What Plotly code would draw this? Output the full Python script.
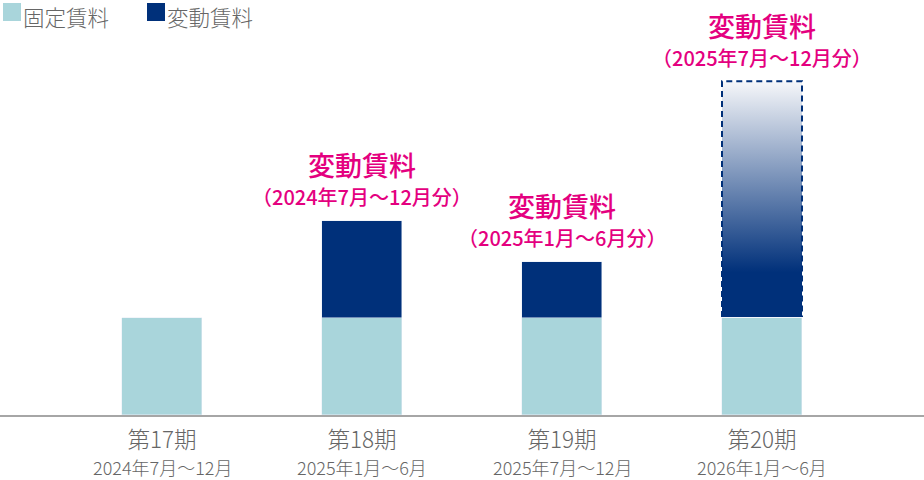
import plotly.graph_objects as go

periods = ["第17期", "第18期", "第19期", "第20期"]
period_ranges = ["2024年7月～12月", "2025年1月～6月", "2025年7月～12月", "2026年1月～6月"]
fixed_rent = [100, 100, 100, 100]
variable_rent = [0, 100, 58, 244]
variable_forecast = [False, False, False, True]
variable_labels = ["", "（2024年7月～12月分）", "（2025年1月～6月分）", "（2025年7月～12月分）"]
legend_names = ["固定賃料", "変動賃料"]

C_FIXED = "#a9d5db"
C_VAR = "#00307a"
C_PINK = "#e4007f"
C_TEXT = "#666666"
FONT = "Noto Sans CJK JP"
BAR_W = 0.4

x = list(range(len(periods)))

fig = go.Figure()
fig.add_trace(go.Bar(x=x, y=fixed_rent, width=BAR_W, marker_color=C_FIXED,
                     name=legend_names[0], showlegend=False))
actual_var = [v if (not f and v > 0) else None for v, f in zip(variable_rent, variable_forecast)]
fig.add_trace(go.Bar(x=x, y=actual_var, width=BAR_W, marker_color=C_VAR,
                     name=legend_names[1], showlegend=False))

# forecast bar: gradient fill with dashed outline (left, top, right)
for i, (fx, v, f) in enumerate(zip(fixed_rent, variable_rent, variable_forecast)):
    if not f:
        continue
    x0, x1 = i - BAR_W / 2, i + BAR_W / 2
    y0, y1 = fx + 1, fx + v
    fig.add_trace(go.Scatter(
        x=[x0, x0, x1, x1], y=[y0, y1, y1, y0],
        mode="lines", fill="toself",
        line=dict(color=C_VAR, width=2, dash="6px,4px"),
        fillgradient=dict(type="vertical", start=y0, stop=y1,
                          colorscale=[[0, C_VAR], [0.19, C_VAR], [1, "#f6f7fa"]]),
        showlegend=False, hoverinfo="skip"))

# variable rent labels above bars
for i, (fx, v, lab) in enumerate(zip(fixed_rent, variable_rent, variable_labels)):
    if v <= 0:
        continue
    top = fx + v
    fig.add_annotation(x=i, y=top, text="変動賃料", showarrow=False, yanchor="middle",
                       yshift=56, font=dict(family=FONT, size=27, color=C_PINK, weight=500))
    fig.add_annotation(x=i, y=top, text=lab, showarrow=False, yanchor="middle",
                       yshift=24, font=dict(family=FONT, size=20, color=C_PINK, weight=500))

# period ranges under the period labels
for i, r in enumerate(period_ranges):
    fig.add_annotation(x=i, y=0, yref="paper", text=r, showarrow=False, yanchor="middle",
                       yshift=-52, borderpad=0,
                       font=dict(family=FONT, size=18, color=C_TEXT, weight=300))

# legend (squares + labels)
leg_colors = [C_FIXED, C_VAR]
leg_offsets = [3, 147]
for name, col, off in zip(legend_names, leg_colors, leg_offsets):
    fig.add_shape(type="rect", xref="paper", yref="paper", xsizemode="pixel", ysizemode="pixel",
                  xanchor=0, yanchor=1, x0=off, x1=off + 18, y0=-21, y1=-3,
                  fillcolor=col, line=dict(width=0))
    fig.add_annotation(x=0, y=1, xref="paper", yref="paper", xanchor="left", yanchor="top",
                       xshift=off + 19, yshift=0, text=name, showarrow=False, borderpad=0,
                       font=dict(family=FONT, size=21.5, color=C_TEXT, weight=300))

fig.update_layout(
    width=924, height=480,
    margin=dict(l=0, r=0, t=0, b=65),
    paper_bgcolor="white", plot_bgcolor="white",
    barmode="stack", bargap=0,
    font=dict(family=FONT, color=C_TEXT),
    showlegend=False,
    xaxis=dict(range=[-0.81, 3.81], tickmode="array", tickvals=x, ticktext=periods,
               showgrid=False, zeroline=False, showline=True, linecolor="#a6a6a6", linewidth=2,
               ticks="", ticklabelstandoff=4,
               tickfont=dict(family=FONT, size=22.5, color=C_TEXT, weight=300)),
    yaxis=dict(range=[0, 427.8], visible=False, showgrid=False, zeroline=False),
)

fig.write_html("out.html", config={"displayModeBar": False},
               post_script="document.body.style.margin='0';")
